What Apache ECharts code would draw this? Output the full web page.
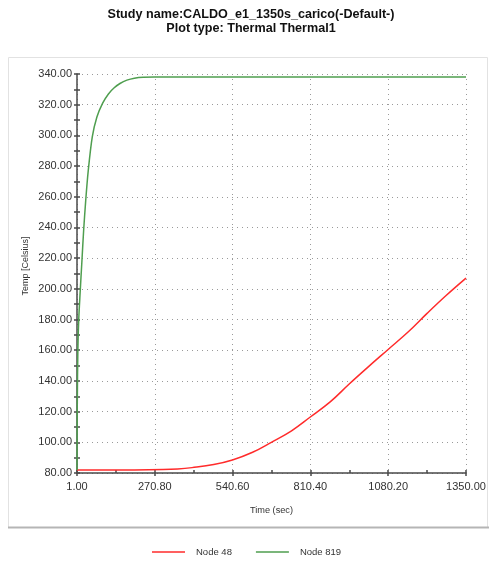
<!DOCTYPE html>
<html>
<head>
<meta charset="utf-8">
<script src="https://cdn.jsdelivr.net/npm/echarts@6/dist/echarts.min.js"></script>
<style>html,body{margin:0;padding:0;background:#fff;}#c{width:489px;height:562px;}</style>
</head>
<body>
<div id="c"></div>
<script>
const titleLines = ['Study name:CALDO_e1_1350s_carico(-Default-)', 'Plot type: Thermal Thermal1'];
const xTicks = [1, 270.8, 540.6, 810.4, 1080.2, 1350];
const xMinorTicks = [135.9, 405.7, 675.5, 945.3, 1215.1];
const seriesNames = ['Node 48', 'Node 819'];
const time48 = [1, 100, 200, 300, 350, 400, 475, 540, 610, 675, 745, 810, 880, 945, 1010, 1080, 1150, 1215, 1280, 1350];
const temp48 = [82, 82, 82, 82.2, 82.6, 83.5, 85.5, 88.5, 93.5, 100, 107.5, 116.5, 126.5, 138, 149, 160.5, 172, 184, 195.5, 207];
const time819 = [1, 2, 4, 7, 12, 18, 24, 31, 40, 54, 70, 90, 110, 130, 150, 174, 200, 231, 270, 400, 600, 800, 1000, 1200, 1350];
const temp819 = [82, 125, 160, 180, 198, 218, 238, 257, 277, 299, 312, 321, 327, 331, 333.8, 336, 337.3, 337.9, 338, 338, 338, 338, 338, 338, 338];

const pair = (xs, ys) => xs.map((x, i) => [x, ys[i]]);
const chart = echarts.init(document.getElementById('c'));
const gridLine = {show: true, lineStyle: {color: '#9a9a9a', type: [1, 4], width: 1}};
const axisCol = '#4a4a4a';
const ff = '"Liberation Sans", Arial, sans-serif';
chart.setOption({
  backgroundColor: '#fff',
  animation: false,
  graphic: [
    {type: 'rect', shape: {x: 8.5, y: 57.5, width: 479, height: 470}, style: {fill: '#fff', stroke: '#e2e2e2', lineWidth: 1}, z: -10},
    {type: 'line', shape: {x1: 8, y1: 527.5, x2: 489, y2: 527.5}, style: {stroke: '#b5b5b5', lineWidth: 2}, z: -9},
    {type: 'text', x: 251, y: 15, style: {text: titleLines[0], font: 'bold 12.6px ' + ff, fill: '#111', textAlign: 'center', textVerticalAlign: 'middle'}},
    {type: 'text', x: 251, y: 29, style: {text: titleLines[1], font: 'bold 12.6px ' + ff, fill: '#111', textAlign: 'center', textVerticalAlign: 'middle'}},
    {type: 'text', x: 26, y: 266, rotation: Math.PI / 2, style: {text: 'Temp [Celsius]', font: '9px ' + ff, fill: '#333', textAlign: 'center', textVerticalAlign: 'middle'}}
  ],
  grid: {left: 77, right: 23, top: 74, bottom: 89},
  legend: {
    top: 542, left: 147, icon: 'rect', itemWidth: 33, itemHeight: 1.5, itemGap: 24,
    data: seriesNames,
    textStyle: {fontFamily: '"Liberation Sans Narrow", "Liberation Sans", Arial, sans-serif', fontSize: 9.5, color: '#333', padding: [0, 0, 0, 6]}
  },
  xAxis: [{
    type: 'value', min: 1, max: 1350,
    name: 'Time (sec)', nameLocation: 'middle', nameGap: 33,
    nameTextStyle: {fontFamily: ff, fontSize: 9.2, color: '#333'},
    axisLine: {show: true, onZero: false, lineStyle: {color: axisCol, width: 1.5}},
    axisTick: {show: true, customValues: xTicks, length: 3, lineStyle: {color: axisCol, width: 1.5}},
    axisLabel: {customValues: xTicks, formatter: v => v.toFixed(2), margin: 8, fontFamily: ff, fontSize: 11, color: '#333'},
    splitLine: gridLine
  }, {
    type: 'value', min: 1, max: 1350, position: 'bottom',
    axisLine: {show: false},
    axisTick: {show: true, inside: true, customValues: xTicks.concat(xMinorTicks), length: 3, lineStyle: {color: axisCol, width: 1.5}},
    axisLabel: {show: false}, splitLine: {show: false}
  }],
  yAxis: [{
    type: 'value', min: 80, max: 340, interval: 20,
    axisLine: {show: true, onZero: false, lineStyle: {color: axisCol, width: 1.5}},
    axisTick: {show: true, length: 3, lineStyle: {color: axisCol, width: 1.5}},
    minorTick: {show: true, splitNumber: 2, length: 3, lineStyle: {color: axisCol, width: 1.5}},
    axisLabel: {formatter: v => v.toFixed(2), margin: 5, fontFamily: ff, fontSize: 11, color: '#333'},
    splitLine: gridLine
  }, {
    type: 'value', min: 80, max: 340, interval: 10, position: 'left',
    axisLine: {show: false},
    axisTick: {show: true, inside: true, length: 3, lineStyle: {color: axisCol, width: 1.5}},
    axisLabel: {show: false}, splitLine: {show: false}
  }],
  series: [
    {name: seriesNames[0], type: 'line', data: pair(time48, temp48), showSymbol: false, smooth: 0.4, color: '#ff2b2b', lineStyle: {width: 1.5}, z: 3},
    {name: seriesNames[1], type: 'line', data: pair(time819, temp819), showSymbol: false, smooth: 0.3, color: '#4f9e4f', lineStyle: {width: 1.5}, z: 3}
  ]
});
</script>
</body>
</html>
